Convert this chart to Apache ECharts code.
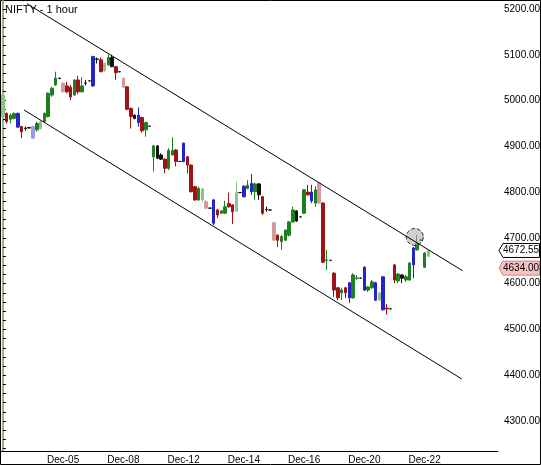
<!DOCTYPE html>
<html><head><meta charset="utf-8">
<script src="https://cdn.jsdelivr.net/npm/echarts@6/dist/echarts.min.js"></script>
<style>html,body{margin:0;padding:0;background:#fff}#c{width:541px;height:465px}</style>
</head><body><div id="c"></div>
<script>
// OHLC: [open, close, low, high]
const ohlc = [
[4965,5012,4963,5014],[4972,4954,4950,4974],[4959,4968,4950,4972],[4961,4972,4959,4974],[4972,4942,4940,4974],
[4943,4932,4918,4945],[4939,4940,4934,4943],[4941,4940,4939,4942],[4943,4918,4916,4945],[4936,4950,4932,4954],
[4939,4954,4937,4956],[4954,4972,4952,4974],[4965,5016,4963,5018],[5012,5027,5008,5030],[5034,5049,5032,5063],
[5049,5048,5047,5050],[5038,5019,5018,5041],[5032,5019,5016,5041],[5029,5008,5001,5034],[5012,5045,5011,5046],
[5045,5019,5014,5054],[5019,5032,5018,5051],[5038,5038.5,5033,5045],[5043,5043,5042,5044],[5032,5096,5030,5098],
[5091,5090,5081,5094],[5089,5063,5062,5094],[5065,5081,5063,5083],[5078,5094,5076,5100],[5094,5074,5073,5100],
[5074,5061,5045,5076],[5063,5063,5062,5064],[5049,5029,5027,5051],[5030,4981,4979,5032],[4983,4965,4939,4985],
[4968,4961,4959,4970],[4968,4952,4943,4985],[4963,4934,4930,4965],[4936,4952,4921,4954],[4944,4944,4943,4945],
[4877,4901,4845,4903],[4901,4874,4872,4903],[4881,4872,4870,4885],[4872,4852,4841,4874],[4852,4891,4848,4896],
[4881,4891,4880,4920],[4892,4867,4856,4894],[4867,4867,4866,4868],[4867,4907,4865,4908],[4877,4859,4841,4879],
[4859,4801,4799,4861],[4812,4783,4781,4814],[4783,4808,4781,4812],[4783,4807,4779,4809],[4779,4765,4763,4783],
[4765,4765,4764,4766],[4783,4732,4728,4785],[4761,4750,4743,4763],[4754,4759,4752,4761],[4754,4768,4752,4781],
[4775,4768,4766,4799],[4772,4757,4730,4774],[4759,4799,4757,4823],[4799,4799,4798,4800],[4813,4790,4788,4815],
[4808,4815,4806,4826],[4819,4801,4794,4840],[4801,4818,4783,4821],[4818,4794,4783,4820],[4790,4754,4750,4792],
[4762,4762.5,4757,4768],[4761,4761,4760,4762],[4733,4695,4693,4735],[4706,4695,4680,4708],[4692,4703,4674,4706],
[4695,4717,4693,4719],[4706,4735,4703,4737],[4735,4761,4733,4768],[4759,4737,4735,4761],[4746,4746,4745,4747],
[4754,4805,4752,4807],[4800,4794,4792,4816],[4800,4781,4776,4816],[4776,4805,4768,4813],[4820,4776,4774,4822],
[4776,4647,4645,4778],[4652,4651,4630,4674],[4651,4651,4650,4652],[4623,4586,4571,4625],[4591,4569,4564,4593],
[4580,4586,4564,4591],[4591,4580,4569,4593],[4602,4569,4558,4604],[4569,4619,4567,4623],[4612,4612.5,4608,4619],
[4612,4612,4611,4613],[4636,4586,4584,4638],[4586,4593,4582,4595],[4591,4604,4589,4608],[4602,4564,4562,4604],
[4564,4580,4562,4582],[4615,4543,4541,4617],[4547,4545,4532,4556],[4545,4545,4544,4546],[4641,4608,4601,4643],
[4606,4621,4601,4623],[4619,4612,4601,4621],[4608,4615,4604,4619],[4608,4645,4606,4647],[4641,4678,4612,4680],
[4674,4689,4672,4706],[4695,4695,4694,4696],[4636,4667,4634,4669],[4660,4672.55,4658,4675]
];
const tones = ['lg','r','g','g','b','r','k','k','lb','g','lg','g','g','g','g','k','p','r','r','g','r','g','k','k','b',
'k','r','lg','g','k','r','k','p','r','r','k','b','r','g','k','g','k','k','r','g','g','r','k','b','r',
'r','r','g','lg','p','k','b','r','g','g','r','r','lg','k','b','g','b','g','k','r','k','k','p','r','g',
'g','g','g','k','k','g','r','b','g','p','r','g','k','r','r','g','r','b','g','g','k','b','g','g','b',
'lg','b','r','k','r','g','k','g','g','b','g','k','g','lg'];
const tickLabels = ['Dec-05','Dec-08','Dec-12','Dec-14','Dec-16','Dec-20','Dec-22'];
const priceTicks = [4300,4400,4500,4600,4700,4800,4900,5000,5100,5200];
const upperChannel = [[6.42,5211.4],[122.09,4628.3]];
const lowerChannel = [[5.62,4979.4],[121.9,4391.8]];
const highlight = [[109.4,4702]];
const lastPrice = 4672.55, markPrice = 4634.00;
const nCats = 132, tickStep = 16;

const palette = {g:'#1f7f1f',lg:'#8cc28c',r:'#9c1414',p:'#d49a9a',b:'#2424c8',lb:'#9a9ae6',k:'#111111'};
const cats = [];
for (let i=0;i<nCats;i++){ const k=i/tickStep; cats.push(i%tickStep===0 && k>=1 && k<=tickLabels.length ? tickLabels[k-1] : ''); }
const minorVals=[]; for(let v=4240; v<=5210; v+=20) minorVals.push(v);
const candleData = ohlc.map((d,i)=>{const c=palette[tones[i]]; return {value:d,itemStyle:{color:c,color0:c,borderColor:c,borderColor0:c}};});
const font = 'Liberation Sans';
const chart = echarts.init(document.getElementById('c'));
chart.setOption({
  animation:false, backgroundColor:'#fff',
  grid:{left:1,right:43,top:1,bottom:14,outerBoundsMode:'none',containLabel:false},
  xAxis:[{type:'category',data:cats,boundaryGap:true,
    axisLine:{lineStyle:{color:'#000',width:1}},
    axisTick:{interval:(i)=>i%tickStep===0&&i>0,length:3,lineStyle:{color:'#000'}},
    axisLabel:{interval:0,fontFamily:font,fontSize:10,color:'#000',margin:4,hideOverlap:false},splitLine:{show:false}},
   {type:'value',min:-0.5,max:nCats-0.5,show:false}],
  yAxis:{type:'value',position:'right',min:4234.5,max:5217.5,scale:true,
    axisLine:{show:true,lineStyle:{color:'#a8a890',width:2}},
    axisTick:{show:true,customValues:minorVals,length:3,lineStyle:{color:'#000'}},
    axisLabel:{customValues:priceTicks,formatter:v=>v.toFixed(2),fontFamily:font,fontSize:10,color:'#000',margin:6},
    splitLine:{show:false}},
  series:[
    {type:'candlestick',data:candleData,barWidth:3,barMinWidth:1,barMaxWidth:3},
    {type:'line',xAxisIndex:1,data:upperChannel,symbol:'none',lineStyle:{color:'#000',width:1},silent:true},
    {type:'line',xAxisIndex:1,data:lowerChannel,symbol:'none',lineStyle:{color:'#000',width:1},silent:true},
    {type:'scatter',xAxisIndex:1,data:highlight,symbolSize:17,itemStyle:{color:'rgba(170,170,170,0.7)',borderColor:'#000',borderType:'dashed',borderWidth:1}}
  ]
});
const y1 = chart.convertToPixel({yAxisIndex:0}, lastPrice);
const y2 = chart.convertToPixel({yAxisIndex:0}, markPrice);
function tag(y,txt,fill,stroke){
  return {type:'group',children:[
    {type:'polygon',shape:{points:[[499,y],[503,y-7],[539.5,y-7],[539.5,y+7],[503,y+7]]},style:{fill:fill,stroke:stroke,lineWidth:1}},
    {type:'text',x:503,y:y,style:{text:txt,fontFamily:font,fontSize:10,fill:'#000',verticalAlign:'middle'}}]};
}
chart.setOption({graphic:[
  {type:'rect',shape:{x:0.5,y:0.5,width:540,height:464},style:{fill:'none',stroke:'#000',lineWidth:1}},
  {type:'text',x:5,y:4,style:{text:'NIFTY - 1 hour',fontFamily:font,fontSize:11,fill:'#000'}},
  tag(y1,lastPrice.toFixed(2),'#fff','#000'),
  tag(y2,markPrice.toFixed(2),'#f4c4c4','#d08080')
]});
</script></body></html>
